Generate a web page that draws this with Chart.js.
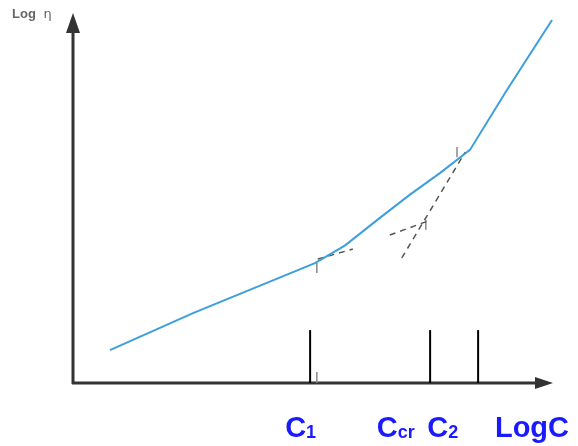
<!DOCTYPE html>
<html>
<head>
<meta charset="utf-8">
<script src="https://cdn.jsdelivr.net/npm/chart.js@4/dist/chart.umd.min.js"></script>
<style>
  html, body { margin: 0; padding: 0; background: #fff; }
  #wrap { width: 578px; height: 446px; position: relative; }
</style>
</head>
<body>
<div id="wrap"><canvas id="viscosityChart"></canvas></div>
<script>
// viscosity curve, log eta against log C (schematic units 0..100)
var curveX = [7.7, 25, 50.4, 56.7, 64.0, 70.2, 76.5, 82.7, 90.4, 99.8];
var curveY = [8.9, 18.9, 32.4, 37.2, 44.7, 50.9, 56.8, 63.0, 79.2, 98.1];

// vertical marker lines at C1, Ccr, C2
var markerX = [49.4, 74.4, 84.4];
var markerTop = 14.3;

// dashed tangent lines [x0, y0, x1, y1]
var tangents = [
    [51.0, 33.5, 58.3, 36.2],
    [66.0, 40.0, 74.0, 43.8],
    [68.5, 33.8, 81.7, 62.4]
];

// small tick marks [x, y0, y1]
var smallTicks = [
    [50.8, 32.4, 29.7],
    [73.5, 44.2, 41.4],
    [80.0, 63.8, 61.0],
    [50.8, 0, 3.0]
];

// axis labels: main text, subscript, x position, y position
var labelMain = ["C", "C", "C", "LogC"];
var labelSub = ["1", "cr", "2", ""];
var labelX = [44.2, 63.3, 73.8, 87.9];
var labelY = -14.6;

var yTitle = "Log";
var yTitleSymbol = "\u03b7";
var yTitleX = -12.7;
var yTitleY = 98.6;

function seg(x0, y0, x1, y1) {
    return [{ x: x0, y: y0 }, { x: x1, y: y1 }];
}

var datasets = [{
    data: curveX.map(function (x, i) { return { x: x, y: curveY[i] }; }),
    borderColor: "#3d9fdc",
    borderWidth: 2
}];

markerX.forEach(function (x) {
    datasets.push({ data: seg(x, 0, x, markerTop), borderColor: "#000", borderWidth: 2 });
});

tangents.forEach(function (t) {
    datasets.push({ data: seg(t[0], t[1], t[2], t[3]), borderColor: "#555", borderWidth: 1.5, borderDash: [6, 5] });
});

smallTicks.forEach(function (t) {
    datasets.push({ data: seg(t[0], t[1], t[0], t[2]), borderColor: "#888", borderWidth: 1.5 });
});

datasets.forEach(function (d) {
    d.showLine = true;
    d.pointRadius = 0;
    d.tension = 0;
    d.clip = false;
});

var axesPlugin = {
    id: "arrowAxes",
    beforeDatasetsDraw: function (chart) {
        var ctx = chart.ctx;
        var x = chart.scales.x, y = chart.scales.y;
        var ox = x.getPixelForValue(0), oy = y.getPixelForValue(0);
        var tx = x.getPixelForValue(100), ty = y.getPixelForValue(100);
        ctx.save();
        ctx.strokeStyle = "#333";
        ctx.fillStyle = "#333";
        ctx.lineWidth = 3;
        ctx.beginPath();
        ctx.moveTo(ox, oy + 1);
        ctx.lineTo(ox, ty + 12);
        ctx.moveTo(ox - 1, oy);
        ctx.lineTo(tx - 12, oy);
        ctx.stroke();
        ctx.beginPath();
        ctx.moveTo(ox, ty);
        ctx.lineTo(ox - 7, ty + 20);
        ctx.lineTo(ox + 7, ty + 20);
        ctx.closePath();
        ctx.fill();
        ctx.beginPath();
        ctx.moveTo(tx, oy);
        ctx.lineTo(tx - 18, oy - 6);
        ctx.lineTo(tx - 18, oy + 6);
        ctx.closePath();
        ctx.fill();
        ctx.restore();
    },
    afterDraw: function (chart) {
        var ctx = chart.ctx;
        var x = chart.scales.x, y = chart.scales.y;
        ctx.save();
        ctx.textBaseline = "alphabetic";
        ctx.textAlign = "left";
        ctx.fillStyle = "#1a1aff";
        labelMain.forEach(function (txt, i) {
            var px = x.getPixelForValue(labelX[i]);
            var py = y.getPixelForValue(labelY);
            ctx.font = "bold 29px 'Liberation Sans', Arial, sans-serif";
            ctx.fillText(txt, px, py);
            if (labelSub[i]) {
                var w = ctx.measureText(txt).width;
                ctx.font = "bold 18px 'Liberation Sans', Arial, sans-serif";
                ctx.fillText(labelSub[i], px + w, py + 1);
            }
        });
        var qx = x.getPixelForValue(yTitleX), qy = y.getPixelForValue(yTitleY);
        ctx.fillStyle = "#666";
        ctx.font = "bold 13px 'Liberation Sans', Arial, sans-serif";
        ctx.fillText(yTitle, qx, qy);
        var w2 = ctx.measureText(yTitle + " ").width;
        ctx.font = "13px 'DejaVu Sans', sans-serif";
        ctx.fillText(yTitleSymbol, qx + w2 + 4, qy);
        ctx.restore();
    }
};

new Chart(document.getElementById("viscosityChart").getContext("2d"), {
    type: "scatter",
    data: { datasets: datasets },
    options: {
        responsive: true,
        maintainAspectRatio: false,
        animation: false,
        layout: { padding: { left: 73, right: 25, top: 13, bottom: 63 } },
        scales: {
            x: { type: "linear", min: 0, max: 100, display: false },
            y: { type: "linear", min: 0, max: 100, display: false }
        },
        plugins: {
            legend: { display: false },
            tooltip: { enabled: false }
        }
    },
    plugins: [axesPlugin]
});
</script>
</body>
</html>
